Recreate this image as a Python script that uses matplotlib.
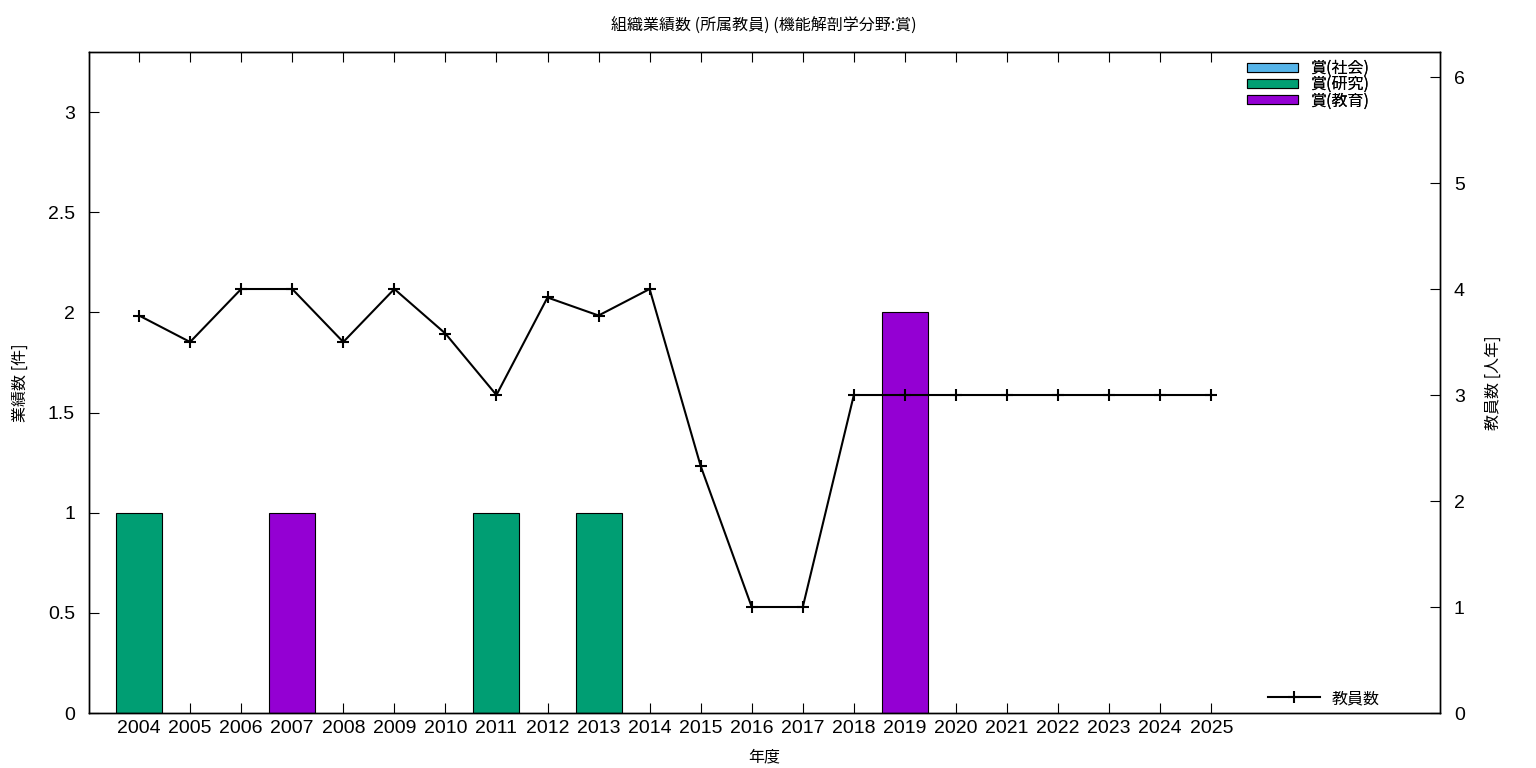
import matplotlib
matplotlib.use("Agg")
import matplotlib.pyplot as plt
import numpy as np
from matplotlib.patches import Patch
from matplotlib.lines import Line2D

plt.rcParams['font.family'] = ['Noto Sans CJK JP', 'DejaVu Sans']

years = [str(y) for y in range(2004, 2026)]
award_social = [0, 0, 0, 0, 0, 0, 0, 0, 0, 0, 0, 0, 0, 0, 0, 0, 0, 0, 0, 0, 0, 0]
award_research = [1, 0, 0, 0, 0, 0, 0, 1, 0, 1, 0, 0, 0, 0, 0, 0, 0, 0, 0, 0, 0, 0]
award_education = [0, 0, 0, 1, 0, 0, 0, 0, 0, 0, 0, 0, 0, 0, 0, 2, 0, 0, 0, 0, 0, 0]
staff = [3.75, 3.5, 4, 4, 3.5, 4, 3.58, 3, 3.92, 3.75, 4, 2.33, 1, 1, 3, 3, 3, 3, 3, 3, 3, 3]

labels = ['賞(社会)', '賞(研究)', '賞(教育)']
colors = ['#56B4E9', '#009E73', '#9400D3']

fig = plt.figure(figsize=(15.36, 7.68), dpi=100)
ax = fig.add_axes([89/1536, 55/768, (1440-89)/1536, (713-52)/768])
ax2 = ax.twinx()

x = np.arange(len(years))
bottom = np.zeros(len(years))
series = [award_social, award_research, award_education]
for vals, c in zip(series, colors):
    v = np.array(vals, dtype=float)
    mask = v > 0
    ax.bar(x[mask], v[mask], width=0.9, bottom=bottom[mask], color=c,
           edgecolor='black', linewidth=0.8, zorder=2)
    bottom += v

ax2.plot(x, staff, color='black', linewidth=1.5, marker='+', markersize=8,
         markeredgewidth=1.5, zorder=3)

ax.set_xlim(-0.98, 25.48)
ax.set_ylim(0, 3.3)
ax2.set_ylim(0, 6.236)
ax.set_xticks(x)
ax.set_xticklabels(years)
ax.set_yticks([0, 0.5, 1, 1.5, 2, 2.5, 3])
ax.set_yticklabels(['0', '0.5', '1', '1.5', '2', '2.5', '3'])
ax2.set_yticks([0, 1, 2, 3, 4, 5, 6])

for lab in ax.get_xticklabels() + ax.get_yticklabels() + ax2.get_yticklabels():
    lab.set_fontfamily(['Liberation Sans', 'DejaVu Sans'])
    lab.set_fontsize(14)

ax.tick_params(axis='x', direction='in', length=7, top=True, bottom=True, pad=5)
ax.tick_params(axis='y', direction='in', length=7, left=True, right=False, pad=10)
ax2.tick_params(axis='y', direction='in', length=7, right=True, pad=10)

for a in (ax, ax2):
    for s in a.spines.values():
        s.set_linewidth(1.0)

ax.set_xlabel('年度', fontsize=11.5, labelpad=8)
ax.set_ylabel('業績数 [件]', fontsize=11.5, labelpad=14)
ax2.set_ylabel('教員数 [人年]', fontsize=11.5, rotation=90, labelpad=14)
fig.text(764/1536, 1 - 26/768, '組織業績数 (所属教員) (機能解剖学分野:賞)', ha='center', va='center', fontsize=11.5)

handles = [Patch(facecolor=c, edgecolor='black', linewidth=0.8) for c in colors]
leg1 = ax.legend(handles, labels, loc='upper left', frameon=False, fontsize=11.5,
                 handlelength=3.2, handleheight=0.5, labelspacing=-0.05, handletextpad=0.75,
                 borderpad=0, borderaxespad=0,
                 bbox_to_anchor=(1247/1536, 1 - 60/768), bbox_transform=fig.transFigure)
ax.add_artist(leg1)

lh = [Line2D([0], [0], color='black', linewidth=1.5, marker='+', markersize=8, markeredgewidth=1.5)]
leg2 = ax2.legend(lh, ['教員数'], loc='upper left', frameon=False, fontsize=11.5,
                  handlelength=3.25, handletextpad=0.75, borderpad=0, borderaxespad=0,
                  bbox_to_anchor=(1268/1536, 1 - 690/768), bbox_transform=fig.transFigure)

fig.savefig('out.png', dpi=100)
